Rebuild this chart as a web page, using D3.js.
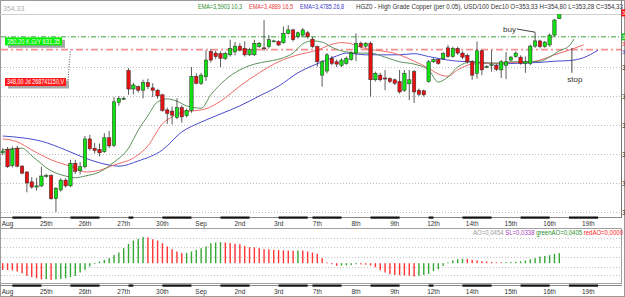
<!DOCTYPE html>
<html>
<head>
<meta charset="utf-8">
<script src="https://cdn.jsdelivr.net/npm/d3@7"></script>
<style>
    body { margin: 0; background: #fff; }
    svg { display: block; font-family: "Liberation Sans", Arial, sans-serif; }
</style>
</head>
<body>
<div id="chart"></div>
<script>
// 3-hour candles, HGZ0 copper, Aug 24 - Sep 16
const openP = [330.2,330.8,328.0,331.0,327.9,326.9,325.2,324.3,324.5,326.2,326.3,322.3,323.8,325.5,324.5,328.4,327.1,327.8,332.6,331.0,
    330.8,330.4,332.8,331.5,338.9,339.5,344.4,341.2,341.6,341.0,342.3,341.4,341.0,340.2,337.6,337.4,336.3,338.0,336.6,337.5,
    343.4,342.2,343.3,347.7,347.4,347.3,346.5,347.1,347.6,348.6,348.2,347.1,347.1,348.5,348.3,348.5,349.5,349.4,349.2,350.8,
    351.4,350.2,350.5,350.9,349.8,348.5,343.6,344.3,346.5,345.9,345.3,345.6,346.3,347.4,349.1,348.6,349.1,342.8,343.6,343.1,
    343.0,342.8,342.5,341.0,342.1,344.2,341.0,340.9,342.5,345.9,346.3,346.4,348.3,346.8,348.2,347.4,347.0,345.9,343.9,347.8,
    345.0,345.3,345.3,344.5,345.3,346.2,346.8,346.7,345.6,345.6,348.6,349.5,348.5,348.8,350.5,353.33];
const highP = [331.0,331.2,331.3,331.4,328.1,327.0,326.0,325.9,327.8,326.6,326.5,324.3,325.8,325.8,329.0,329.0,328.6,333.1,333.3,331.9,
    331.8,333.6,334.0,339.8,340.0,339.9,344.8,342.3,341.8,342.8,343.0,342.2,341.2,340.4,338.0,338.2,339.6,338.4,337.8,345.0,
    343.9,344.0,347.9,348.1,347.8,347.7,347.6,349.7,349.3,349.1,349.4,348.3,349.7,349.3,353.1,350.5,349.7,349.6,352.0,352.2,
    351.6,351.1,351.7,351.2,350.2,348.7,346.2,347.4,346.9,346.3,346.5,346.8,347.7,350.8,349.4,349.3,349.4,344.2,344.0,344.5,
    343.2,343.0,344.5,344.5,344.5,344.5,341.3,341.1,346.2,346.5,346.5,347.6,348.8,348.5,348.5,347.7,347.3,346.2,349.4,348.0,
    345.3,347.9,345.5,346.2,347.6,346.9,347.7,347.0,346.8,348.9,351.0,349.7,349.5,350.8,353.3,354.80];
const lowP = [329.8,327.6,327.7,327.7,326.5,323.4,324.0,323.7,324.3,325.9,322.1,320.0,323.5,324.2,324.3,326.6,326.5,327.5,330.6,330.1,
    329.6,330.2,331.0,331.2,338.3,339.3,340.2,340.3,340.6,339.6,341.2,339.8,339.5,337.3,335.2,335.1,336.0,335.4,336.3,337.1,
    342.0,341.9,342.6,345.8,346.4,345.0,346.2,346.8,347.0,347.7,346.8,346.9,346.9,348.3,347.8,348.2,349.3,348.6,349.0,350.6,
    349.4,349.9,350.3,349.9,348.3,345.05,341.6,343.9,345.3,345.0,345.0,345.4,346.1,346.0,348.2,348.3,339.9,342.5,342.5,341.0,
    342.2,341.9,340.4,340.7,339.3,338.8,340.0,339.9,342.3,345.7,345.4,346.2,346.6,346.6,347.1,346.4,345.6,342.8,343.0,343.6,
    344.8,344.2,344.3,343.1,342.9,346.0,346.6,345.4,344.0,345.3,348.3,348.2,348.3,348.5,350.3,353.28];
const closeP = [330.5,327.8,330.8,327.9,326.7,325.0,324.3,324.5,326.2,326.3,322.3,324.1,325.5,324.5,328.4,327.0,327.8,332.6,330.9,330.6,
    330.2,332.8,331.4,339.0,339.6,339.6,341.2,341.9,341.0,342.3,341.6,341.0,340.0,337.5,337.0,336.7,338.0,336.4,337.5,343.4,
    342.2,343.6,346.2,346.2,346.8,346.5,347.3,348.2,348.6,347.9,347.1,348.0,349.1,349.1,348.2,349.7,349.5,348.8,350.8,351.4,
    349.7,350.9,351.4,350.2,348.5,345.9,345.9,347.1,345.6,345.5,346.2,346.5,347.4,349.1,348.5,349.1,342.8,343.9,342.8,343.0,
    342.5,342.2,340.7,343.9,342.8,340.7,340.3,340.2,345.9,346.3,345.6,347.3,346.8,348.2,347.4,346.7,345.9,343.6,347.8,344.5,
    345.1,345.4,344.6,345.9,345.9,346.7,347.4,345.6,345.9,348.6,349.5,348.5,349.3,350.5,353.1,354.33];

// alligator lines: [bar index, price]
const lipsPts = [[0,330.7],[4,331.0],[6,329.7],[10,327.1],[13,326.2],[15,325.9],[17,326.2],[20,326.9],[23,328.6],[26,331.0],
    [28,334.1],[30,336.6],[32,339.0],[34,339.5],[36,339.1],[38,338.3],[41,337.9],[43,340.2],[46,342.8],[49,344.5],[52,345.5],
    [55,346.0],[58,346.6],[60,347.4],[62,349.0],[64,349.5],[66,349.3],[68,348.4],[71,347.6],[74,347.4],[76,347.4],[79,346.7],
    [82,345.9],[85,345.5],[88,344.5],[90,342.4],[92,343.3],[94,345.0],[97,345.9],[100,345.7],[103,345.7],[105,345.9],[108,345.9],
    [111,346.0],[113,346.7],[115,347.8],[117,348.6],[118,349.8]];
const teethPts = [[0,332.6],[3,332.1],[6,330.7],[10,329.0],[15,327.6],[17,326.9],[20,327.2],[23,328.1],[27,329.3],[30,331.4],
    [33,335.2],[35,336.4],[37,337.2],[41,337.6],[42,337.8],[45,339.1],[49,341.7],[53,344.0],[57,345.9],[61,347.1],[65,347.9],
    [68,348.9],[70,349.2],[72,349.0],[74,348.4],[77,347.9],[79,347.7],[82,347.1],[85,346.0],[88,344.8],[90,343.8],[92,343.4],
    [94,344.5],[97,345.5],[100,345.6],[103,345.6],[105,345.8],[108,345.8],[111,346.2],[114,347.1],[117,347.9],[120,348.8]];
const jawPts = [[0,333.1],[4,332.8],[8,332.2],[13,330.7],[17,329.3],[22,328.1],[24,327.9],[28,328.8],[33,330.7],[37,333.8],
    [41,335.5],[45,336.9],[49,338.3],[53,340.0],[57,341.7],[61,344.0],[66,345.9],[69,346.9],[71,347.4],[75,347.1],[79,347.1],
    [82,347.1],[85,347.3],[88,346.8],[92,346.2],[94,346.0],[97,345.9],[100,345.7],[103,345.5],[105,345.6],[108,345.7],
    [111,345.8],[114,346.0],[117,346.1],[120,346.6],[123,347.9]];

const aoValues = [-0.0305,-0.0309,-0.0332,-0.0377,-0.0455,-0.0577,-0.0636,-0.0682,-0.0732,-0.0723,
    -0.0759,-0.0736,-0.0714,-0.0682,-0.0636,-0.0577,-0.0423,-0.0305,-0.0150,-0.0032,
    0.0077,0.0150,0.0227,0.0377,0.0486,0.0682,0.0877,0.1032,0.1104,0.1191,
    0.1177,0.1091,0.1032,0.0909,0.0759,0.0636,0.0532,0.0455,0.0464,0.0532,
    0.0605,0.0682,0.0759,0.0909,0.0941,0.0955,0.0941,0.0909,0.0877,0.0864,
    0.0786,0.0727,0.0718,0.0682,0.0636,0.0627,0.0605,0.0595,0.0586,0.0577,
    0.0568,0.0577,0.0573,0.0532,0.0486,0.0423,0.0227,0.0032,-0.0045,-0.0118,
    -0.0105,-0.0095,-0.0086,-0.0045,-0.0055,-0.0068,-0.0100,-0.0182,-0.0318,-0.0423,
    -0.0500,-0.0532,-0.0545,-0.0559,-0.0577,-0.0605,-0.0577,-0.0532,-0.0486,-0.0364,
    -0.0273,-0.0123,0.0032,0.0123,0.0182,0.0200,0.0195,0.0150,0.0123,0.0091,
    0.0077,0.0059,0.0045,0.0032,0.0045,0.0055,0.0068,0.0086,0.0123,0.0182,
    0.0227,0.0305,0.0327,0.0364,0.0423,0.0454];
const aoGrid = [0.115, 0.075, 0.03, -0.015, -0.055];

const dayLabels = ['Aug','25th','26th','27th','30th','Sep','2nd','3rd','7th','8th','9th','12th','14th','15th','16th','19th'];
const dayIndex = [1,9,17,25,33,41,49,57,65,73,81,89,97,105,113,121];
const axisBands = [[2,8],[14,20],[26,27],[33,39],[45,51],[57,63],[64,70],[76,82],[88,89],[95,101],[107,113],[117,123]];
const priceTicks = [320,325,330,335,340,345];

const levelBuy = 350.20;
const levelStop = 348.00;

const WIDTH = 625;
const HEIGHT = 297;
const PLOT = { left: 1, right: 621, top: 14, bottom: 217 };
const AO = { top: 228, bottom: 283 };

const svg = d3.select('#chart')
    .append('svg')
        .attr('width', WIDTH)
        .attr('height', HEIGHT);

const x = d3.scaleLinear()
    .domain([0, 115])
    .range([2.7, 559.3]);

const y = d3.scaleLinear()
    .domain([320, 345])
    .range([212, 67]);

const yAo = d3.scaleLinear()
    .domain([-0.09, 0.16])
    .range([AO.bottom, AO.top]);

svg.append('defs').append('clipPath')
    .attr('id', 'plotclip')
    .append('rect')
        .attr('x', PLOT.left)
        .attr('y', PLOT.top)
        .attr('width', PLOT.right - PLOT.left)
        .attr('height', PLOT.bottom - PLOT.top);

// outer frame and header
svg.append('rect')
    .attr('x', 0.5).attr('y', 0.5)
    .attr('width', WIDTH - 1).attr('height', HEIGHT - 1)
    .attr('fill', 'none').attr('stroke', '#9a9a9a');

svg.append('line')
    .attr('x1', 0).attr('x2', PLOT.right)
    .attr('y1', PLOT.top + 0.5).attr('y2', PLOT.top + 0.5)
    .attr('stroke', '#d0d0d0');

svg.append('text')
    .text('354,33')
    .attr('x', 3).attr('y', 11)
    .attr('font-size', 7)
    .attr('fill', '#b0b0b0');

const header = [
    { text: 'EMA=3,5903  10,3', x: 198, len: 44, color: '#2f8f2f' },
    { text: 'EMA=3,4889  16,5', x: 249, len: 44, color: '#e83a3a' },
    { text: 'EMA=3,4785  26,8', x: 300, len: 44, color: '#3a3ac8' },
    { text: 'HGZ0 - High Grade Copper (per 0.05), USD/100 Dec10 O=353,33 H=354,80 L=353,28 C=354,33', x: 356, len: 267, color: '#333' },
];
svg.selectAll('.hdr')
    .data(header)
    .enter().append('text')
        .attr('class', 'hdr')
        .text(d => d.text)
        .attr('x', d => d.x)
        .attr('y', 9)
        .attr('font-size', 6.5)
        .attr('textLength', d => d.len)
        .attr('lengthAdjust', 'spacingAndGlyphs')
        .attr('fill', d => d.color);

// price grid
svg.selectAll('.grid')
    .data(priceTicks)
    .enter().append('line')
        .attr('x1', PLOT.left).attr('x2', PLOT.right)
        .attr('y1', d => Math.round(y(d)) + 0.5)
        .attr('y2', d => Math.round(y(d)) + 0.5)
        .attr('stroke', '#bdbdbd')
        .attr('stroke-dasharray', '1,2');

svg.selectAll('.ptick')
    .data(priceTicks)
    .enter().append('text')
        .text(d => d3.format('.2f')(d).replace('.', ','))
        .attr('x', 622)
        .attr('y', d => y(d) + 2.5)
        .attr('font-size', 6.5)
        .attr('fill', '#333');

// right border
svg.append('line')
    .attr('x1', PLOT.right + 0.5).attr('x2', PLOT.right + 0.5)
    .attr('y1', 0).attr('y2', PLOT.bottom)
    .attr('stroke', '#777');

const plot = svg.append('g').attr('clip-path', 'url(#plotclip)');

// level lines
plot.append('line')
    .attr('x1', PLOT.left).attr('x2', PLOT.right)
    .attr('y1', y(levelBuy)).attr('y2', y(levelBuy))
    .attr('stroke', '#3f9f3f')
    .attr('stroke-dasharray', '5,2,1,2');

plot.append('line')
    .attr('x1', PLOT.left).attr('x2', PLOT.right)
    .attr('y1', y(levelStop)).attr('y2', y(levelStop))
    .attr('stroke', '#f39090')
    .attr('stroke-width', 1.6)
    .attr('stroke-dasharray', '7,3,2,3');

// alligator
const line = d3.line()
    .x(d => x(d[0]))
    .y(d => y(d[1]))
    .curve(d3.curveMonotoneX);

[[jawPts, '#4b4bd0'], [teethPts, '#f06a6a'], [lipsPts, '#5d915d']].forEach(([pts, color]) => {
    plot.append('path')
        .datum(pts)
        .attr('fill', 'none')
        .attr('stroke', color)
        .attr('stroke-width', 1)
        .attr('d', line);
});

// candles
const candles = d3.range(openP.length).map(i => ({
    i: i, o: openP[i], h: highP[i], l: lowP[i], c: closeP[i],
}));

plot.selectAll('.wick')
    .data(candles)
    .enter().append('line')
        .attr('x1', d => x(d.i)).attr('x2', d => x(d.i))
        .attr('y1', d => y(d.h)).attr('y2', d => y(d.l))
        .attr('stroke', '#333')
        .attr('stroke-width', 0.8);

plot.selectAll('.body')
    .data(candles)
    .enter().append('rect')
        .attr('x', d => x(d.i) - 1.7)
        .attr('width', 3.4)
        .attr('y', d => y(Math.max(d.o, d.c)))
        .attr('height', d => Math.max(1, Math.abs(y(d.o) - y(d.c))))
        .attr('fill', d => d.c >= d.o ? '#11e011' : '#e81010')
        .attr('stroke', '#2a2a2a')
        .attr('stroke-width', 0.5);

// level labels on the left
const labels = [
    { text: '350,20 K.G/Y 631,35', y0: y(levelBuy) + 0.5, w: 57, fill: '#00f000' },
    { text: '348,00 Jd 268741150,V', y0: 78, w: 61, fill: '#ff1a1a' },
];
labels.forEach(d => {
    svg.append('rect')
        .attr('x', 8).attr('y', d.y0 + 2.5)
        .attr('width', d.w).attr('height', 8)
        .attr('fill', '#a8a8a8');
    svg.append('rect')
        .attr('x', 5).attr('y', d.y0)
        .attr('width', d.w).attr('height', 8)
        .attr('fill', d.fill);
    svg.append('text')
        .text(d.text)
        .attr('x', 7).attr('y', d.y0 + 6.3)
        .attr('font-size', 6.3)
        .attr('textLength', d.w - 4)
        .attr('lengthAdjust', 'spacingAndGlyphs')
        .attr('fill', '#fff');
});
svg.append('line')
    .attr('x1', 68).attr('y1', 80)
    .attr('x2', 70.5).attr('y2', y(levelStop))
    .attr('stroke', '#555')
    .attr('stroke-dasharray', '1,1.5');

// right side value boxes
const rightBoxes = [
    { v: 354.33, dy: 0, fill: '#ff0000', text: '354,33', color: '#fff' },
    { v: levelBuy, dy: 0, fill: '#1fc21f', text: '350,20', color: '#fff' },
    { v: teethPts[teethPts.length - 1][1], dy: -1, fill: 'none', text: '348,80', color: '#e03030' },
    { v: jawPts[jawPts.length - 1][1], dy: 1.5, fill: 'none', text: '347,90', color: '#3535c8' },
];
rightBoxes.forEach(d => {
    svg.append('rect')
        .attr('x', 621.5).attr('y', y(d.v) + d.dy - 3.5)
        .attr('width', 4).attr('height', 7)
        .attr('fill', d.fill);
    svg.append('text')
        .text(d.text)
        .attr('x', 622).attr('y', y(d.v) + d.dy + 2)
        .attr('font-size', 5.5)
        .attr('fill', d.color);
});

// annotations
svg.append('text')
    .text('buy')
    .attr('x', 503).attr('y', 32)
    .attr('font-size', 8)
    .attr('fill', '#333');
svg.append('line')
    .attr('x1', 517).attr('y1', 29)
    .attr('x2', x(110)).attr('y2', y(highP[110]))
    .attr('stroke', '#444');

const stopIndex = 117.6;
svg.append('line')
    .attr('x1', x(stopIndex)).attr('x2', x(stopIndex))
    .attr('y1', y(348.3)).attr('y2', y(344.0))
    .attr('stroke', '#444');
svg.append('text')
    .text('stop')
    .attr('x', x(stopIndex) + 3).attr('y', 82)
    .attr('text-anchor', 'middle')
    .attr('font-size', 8)
    .attr('fill', '#333');

// date axes
function dateAxis(yLine, yText) {
    svg.append('line')
        .attr('x1', 0).attr('x2', PLOT.right + 1)
        .attr('y1', yLine + 0.5).attr('y2', yLine + 0.5)
        .attr('stroke', '#888');
    svg.selectAll(null)
        .data(axisBands)
        .enter().append('rect')
            .attr('x', d => x(d[0]))
            .attr('width', d => x(d[1]) - x(d[0]))
            .attr('y', yLine - 0.5)
            .attr('height', 2.2)
            .attr('fill', '#111');
    svg.selectAll(null)
        .data(dayLabels)
        .enter().append('text')
            .text(d => d)
            .attr('x', (d, k) => x(dayIndex[k]))
            .attr('y', yText)
            .attr('text-anchor', 'middle')
            .attr('font-size', 6.5)
            .attr('fill', '#333');
}
dateAxis(PLOT.bottom, 226);

// AO panel
svg.append('rect')
    .attr('x', 0.5).attr('y', AO.top + 0.5)
    .attr('width', PLOT.right).attr('height', AO.bottom - AO.top)
    .attr('fill', 'none')
    .attr('stroke', '#a0a0a0');

svg.selectAll('.aogrid')
    .data(aoGrid)
    .enter().append('line')
        .attr('x1', 1).attr('x2', PLOT.right)
        .attr('y1', d => Math.round(yAo(d)) + 0.5)
        .attr('y2', d => Math.round(yAo(d)) + 0.5)
        .attr('stroke', '#c4c4c4')
        .attr('stroke-dasharray', '1,2');

svg.selectAll('.ao')
    .data(aoValues)
    .enter().append('rect')
        .attr('x', (d, i) => x(i) - 0.7)
        .attr('width', 1.4)
        .attr('y', d => yAo(Math.max(0, d)))
        .attr('height', d => Math.max(0.8, Math.abs(yAo(d) - yAo(0))))
        .attr('fill', (d, i) => (i > 0 && d > aoValues[i - 1]) ? '#34a834' : '#ff3535');

const aoLegend = svg.append('text')
    .attr('x', 623).attr('y', 235)
    .attr('text-anchor', 'end')
    .attr('font-size', 6.3)
    .attr('textLength', 150)
    .attr('lengthAdjust', 'spacingAndGlyphs');
[['AO=0,0454 ', '#9a9a9a'], ['SL=0,0338 ', '#a43cc0'], ['greenAO=0,0405 ', '#2a8f2a'], ['redAO=0,0000', '#ff2020']]
    .forEach(([t, c]) => aoLegend.append('tspan').text(t).attr('fill', c));

dateAxis(AO.bottom + 2, 294);
</script>
</body>
</html>
